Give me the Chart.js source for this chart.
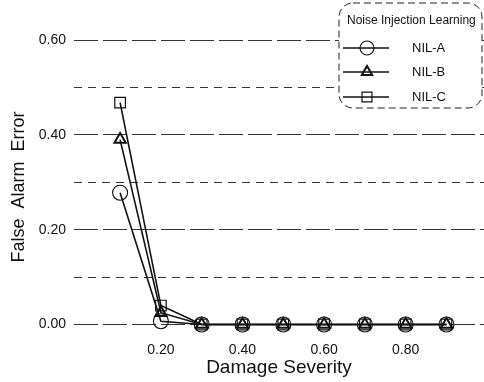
<!DOCTYPE html>
<html>
<head>
<meta charset="utf-8">
<script src="https://cdn.jsdelivr.net/npm/chart.js@4/dist/chart.umd.min.js"></script>
<style>
  html, body { margin: 0; padding: 0; background: #fff; }
  #wrap { width: 484px; height: 382px; }
</style>
</head>
<body>
<div id="wrap"><canvas id="fae"></canvas></div>
<script>
// damage severity on x, false alarm error on y
var severity = [0.1, 0.2, 0.3, 0.4, 0.5, 0.6, 0.7, 0.8, 0.9]
var nilA = [0.278, 0.007, 0, 0, 0, 0, 0, 0, 0]
var nilB = [0.390, 0.025, 0, 0, 0, 0, 0, 0, 0]
var nilC = [0.468, 0.040, 0, 0, 0, 0, 0, 0, 0]
var seriesNames = ['NIL-A', 'NIL-B', 'NIL-C']
var xTicks = [0.2, 0.4, 0.6, 0.8]
var yGrid = [0, 0.1, 0.2, 0.3, 0.4, 0.5, 0.6]
var yLabels = [0, 0.2, 0.4, 0.6]
var legendTitle = 'Noise Injection Learning'

var font = '"Liberation Sans", Arial, sans-serif'

function pts(vals){
    var out = []
    for (var i = 0; i < severity.length; i++) out.push({x: severity[i], y: vals[i]})
    return out
}
function isLabel(v){
    for (var i = 0; i < yLabels.length; i++) if (Math.abs(yLabels[i] - v) < 1e-6) return true
    return false
}

var styles = ['circle', 'triangle', 'rect']
var radii = [7.5, 6.5, 7.5]
var bw = [1.1, 2, 1.2]
var allData = [nilA, nilB, nilC]
var ds = []
for (var k = 0; k < 3; k++){
    ds.push({
        label: seriesNames[k],
        data: pts(allData[k]),
        borderColor: '#111',
        backgroundColor: 'rgba(0,0,0,0)',
        borderWidth: 1.6,
        pointStyle: styles[k],
        pointRadius: radii[k],
        pointBorderWidth: bw[k],
        pointBorderColor: '#111',
        pointBackgroundColor: 'rgba(0,0,0,0)',
        tension: 0
    })
}

// legend drawn inside the plot, top right, dashed rounded box
var boxLegend = {
    id: 'boxLegend',
    afterDraw: function(chart){
        var c = chart.ctx
        var x0 = 339, y0 = 3, w = 143, h = 105, r = 14
        c.save()
        c.fillStyle = '#fff'
        c.strokeStyle = '#222'
        c.lineWidth = 1
        c.setLineDash([7, 4])
        c.beginPath()
        c.roundRect(x0, y0, w, h, r)
        c.fill()
        c.stroke()
        c.setLineDash([])
        c.fillStyle = '#111'
        c.font = '12px ' + font
        c.textBaseline = 'middle'
        c.textAlign = 'left'
        c.fillText(legendTitle, 347, 21)
        var rows = [48, 72, 97]
        chart.data.datasets.forEach(function(d, i){
            var y = rows[i]
            c.strokeStyle = '#111'
            c.lineWidth = 1.6
            c.beginPath()
            c.moveTo(343, y)
            c.lineTo(389, y)
            c.stroke()
            c.lineWidth = d.pointBorderWidth
            c.fillStyle = 'rgba(0,0,0,0)'
            Chart.helpers.drawPoint(c, {pointStyle: d.pointStyle, radius: d.pointRadius - 0.5, rotation: 0, borderWidth: d.pointBorderWidth}, 367, y)
            c.fillStyle = '#111'
            c.font = '13px ' + font
            c.fillText(d.label, 412, y)
        })
        c.restore()
    }
}

var chart1 = new Chart(document.getElementById('fae').getContext('2d'), {
    type: 'line',
    plugins: [boxLegend],
    data: { datasets: ds },
    options: {
        responsive: true,
        maintainAspectRatio: false,
        animation: false,
        layout: { autoPadding: false, padding: { top: 40, right: 0, left: 0, bottom: 0 } },
        plugins: {
            legend: { display: false },
            tooltip: { enabled: false }
        },
        scales: {
            x: {
                type: 'linear',
                min: -0.013,
                max: 0.992,
                afterBuildTicks: function(s){ s.ticks = xTicks.map(function(v){ return {value: v} }) },
                afterFit: function(s){ s.height = 48; s.paddingLeft = 0; s.paddingRight = 0 },
                grid: { display: false },
                border: { display: false },
                ticks: {
                    color: '#111',
                    font: { family: font, size: 14 },
                    padding: 0,
                    maxRotation: 0,
                    callback: function(v){ return v.toFixed(2) }
                },
                title: {
                    display: true,
                    text: 'Damage Severity',
                    color: '#111',
                    font: { family: font, size: 19 },
                    padding: { top: 0, bottom: 3 }
                }
            },
            y: {
                min: -0.02,
                max: 0.6,
                afterBuildTicks: function(s){ s.ticks = yGrid.map(function(v){ return {value: v} }) },
                afterFit: function(s){ s.width = 74 },
                grid: {
                    color: '#333',
                    lineWidth: 1,
                    drawTicks: false
                },
                border: {
                    display: false,
                    dash: function(ctx){ return isLabel(ctx.tick.value) ? [24, 5] : [8, 6] }
                },
                ticks: {
                    color: '#111',
                    font: { family: font, size: 14 },
                    padding: 8,
                    callback: function(v){ return isLabel(v) ? v.toFixed(2) : '' }
                },
                title: {
                    display: true,
                    text: 'False  Alarm  Error',
                    color: '#111',
                    font: { family: font, size: 18 },
                    padding: { top: 8, bottom: 0 }
                }
            }
        }
    }
})
</script>
</body>
</html>
